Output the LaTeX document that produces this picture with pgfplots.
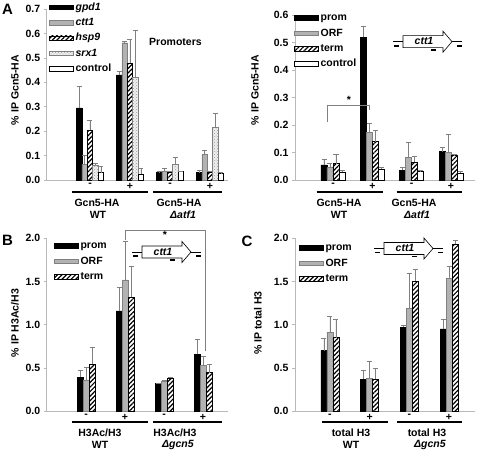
\documentclass[border=0pt]{standalone}
\usepackage{pgfplots}
\pgfplotsset{compat=1.18}
\usepackage{fontspec}
\setmainfont{Liberation Sans}
\usetikzlibrary{patterns,patterns.meta}
\definecolor{barg}{RGB}{178,178,178}
\definecolor{axg}{RGB}{185,185,185}
\newcommand{\F}{\fontsize{10.5}{12}\selectfont\bfseries}
\pgfplotsset{
  panel/.style={
    scale only axis, ybar=0pt, enlargelimits=false,
    axis lines*=left, axis line style={draw=axg, line width=0.6pt},
    major tick length=3pt, tick align=outside,
    ytick style={draw=axg, line width=0.6pt}, xtick style={draw=none},
    xtick={0,1,2,3}, xticklabels={-,+,-,+},
    ticklabel style={font=\F},
    xticklabel style={yshift=3pt},
    /pgf/number format/assume math mode=true,
    yticklabel style={/pgf/number format/.cd, fixed, fixed zerofill, precision=1},
    legend cell align=left,
    legend image code/.code={\draw[##1] (0pt,-2.25pt) rectangle (24pt,2.25pt);},
    legend style={anchor=north west, draw=none, fill=none, inner sep=0pt, row sep=2.4pt,
      column sep=1pt, font=\F, nodes={inner sep=1pt, text height=8.5pt, text depth=2.5pt}},
    error bars/y dir=plus, error bars/y explicit,
    error bars/error bar style={gray, line width=0.5pt},
    error bars/error mark options={gray, rotate=90, mark size=2.5pt, line width=0.5pt},
  },
  sblack/.style={fill=black, draw=black},
  sgray/.style={fill=barg, draw=gray},
  sstripe/.style={draw=black, line width=0.4pt, pattern={Lines[angle=45,distance=3.2pt,line width=1.2pt]}, pattern color=black},
  sdots/.style={draw=gray, preaction={fill=gray!12}, pattern=crosshatch dots, pattern color=gray!80},
  swhite/.style={fill=white, draw=black, line width=0.4pt},
}
\newcommand{\gene}[2]{%
\begin{scope}[shift={(#1pt,#2pt)}]
\draw[line width=0.7pt] (-10pt,0pt) -- (0pt,0pt);
\draw[line width=0.7pt] (49pt,0pt) -- (59pt,0pt);
\draw[line width=0.6pt, fill=white] (0pt,-6pt) -- (40pt,-6pt) -- (40pt,-10.5pt) -- (49pt,0pt) -- (40pt,10.5pt) -- (40pt,6pt) -- (0pt,6pt) -- cycle;
\node[font=\fontsize{10.5}{12}\selectfont\bfseries\itshape] at (21pt,0.5pt) {ctt1};
\draw[line width=1.8pt] (-9pt,-4pt) -- (-4pt,-4pt) (28pt,-8pt) -- (33pt,-8pt) (54pt,-4pt) -- (59pt,-4pt);
\end{scope}}
\begin{document}
\begin{tikzpicture}[font=\F]
\useasboundingbox (0pt,0pt) rectangle (480pt,459pt);
% ---------------- Panel A left
\begin{axis}[panel, at={(46.7pt,279pt)}, anchor=south west,
  width=181.3pt, height=171pt, xmin=-1.0825, xmax=3.45, ymin=0, ymax=0.7,
  ytick={0,0.1,...,0.7}, bar width=5.4pt,
  legend style={at={(axis description cs:0.0127,1.050)}}]
\addplot[sblack] coordinates {(0,0.295) +- (0,0.088) (1,0.43) +- (0,0.015) (2,0.03) +- (0,0.005) (3,0.03) +- (0,0.01)};
\addplot[sgray] coordinates {(0,0.065) +- (0,0.035) (1,0.562) +- (0,0.008) (2,0.037) +- (0,0.01) (3,0.105) +- (0,0.015)};
\addplot[sstripe] coordinates {(0,0.204) +- (0,0.04) (1,0.478) +- (0,0.1) (2,0.032) +- (0,0.004) (3,0.032) +- (0,0.003)};
\addplot[sdots] coordinates {(0,0.062) +- (0,0.005) (1,0.42) +- (0,0.195) (2,0.064) +- (0,0.03) (3,0.215) +- (0,0.057)};
\addplot[swhite] coordinates {(0,0.03) +- (0,0.027) (1,0.025) +- (0,0.025) (2,0.034) +- (0,0.001) (3,0.026) +- (0,0.005)};
\addlegendentry{\textit{gpd1}}
\addlegendentry{\textit{ctt1}}
\addlegendentry{\textit{hsp9}}
\addlegendentry{\textit{srx1}}
\addlegendentry{control}
\end{axis}
% ---------------- Panel A right
\begin{axis}[panel, at={(295pt,279pt)}, anchor=south west,
  width=180pt, height=165pt, xmin=-0.966, xmax=3.61, ymin=0, ymax=0.6,
  ytick={0,0.1,...,0.6}, bar width=6pt,
  legend style={at={(axis description cs:-0.0056,1.024)}}]
\addplot[sblack] coordinates {(0,0.055) +- (0,0.022) (1,0.52) +- (0,0.04) (2,0.035) +- (0,0.01) (3,0.103) +- (0,0.015)};
\addplot[sgray] coordinates {(0,0.045) +- (0,0.017) (1,0.173) +- (0,0.032) (2,0.083) +- (0,0.055) (3,0.1) +- (0,0.066)};
\addplot[sstripe] coordinates {(0,0.06) +- (0,0.033) (1,0.14) +- (0,0.04) (2,0.065) +- (0,0.022) (3,0.09) +- (0,0.002)};
\addplot[swhite] coordinates {(0,0.028) +- (0,0.008) (1,0.04) +- (0,0.008) (2,0.033) +- (0,0.001) (3,0.025) +- (0,0.008)};
\addlegendentry{prom}
\addlegendentry{ORF}
\addlegendentry{term}
\addlegendentry{control}
\end{axis}
% ---------------- Panel B
\begin{axis}[panel, at={(46.7pt,48pt)}, anchor=south west,
  width=181.3pt, height=172.7pt, xmin=-1.008, xmax=3.641, ymin=0, ymax=2,
  ytick={0,0.5,...,2.0}, bar width=6pt,
  legend style={at={(axis description cs:0.040,0.996)}}]
\addplot[sblack] coordinates {(0,0.39) +- (0,0.08) (1,1.16) +- (0,0.27) (2,0.32) +- (0,0.005) (3,0.656) +- (0,0.17)};
\addplot[sgray] coordinates {(0,0.36) +- (0,0.15) (1,1.52) +- (0,0.45) (2,0.345) +- (0,0.01) (3,0.53) +- (0,0.1)};
\addplot[sstripe] coordinates {(0,0.54) +- (0,0.2) (1,1.32) +- (0,0.36) (2,0.38) +- (0,0.015) (3,0.445) +- (0,0.1)};
\addlegendentry{prom}
\addlegendentry{ORF}
\addlegendentry{term}
\end{axis}
% ---------------- Panel C
\begin{axis}[panel, at={(295pt,48pt)}, anchor=south west,
  width=180pt, height=172.7pt, xmin=-0.882, xmax=3.655, ymin=0, ymax=2,
  ytick={0,0.5,...,2.0}, bar width=6pt,
  legend style={at={(axis description cs:0.022,0.984)}}]
\addplot[sblack] coordinates {(0,0.7) +- (0,0.14) (1,0.37) +- (0,0.1) (2,0.97) +- (0,0.02) (3,0.95) +- (0,0.11)};
\addplot[sgray] coordinates {(0,0.91) +- (0,0.19) (1,0.38) +- (0,0.2) (2,1.19) +- (0,0.41) (3,1.537) +- (0,0.14)};
\addplot[sstripe] coordinates {(0,0.85) +- (0,0.21) (1,0.37) +- (0,0.12) (2,1.5) +- (0,0.14) (3,1.935) +- (0,0.04)};
\addlegendentry{prom}
\addlegendentry{ORF}
\addlegendentry{term}
\end{axis}
% ---------------- annotations
\node[font=\fontsize{15}{16}\selectfont\bfseries] at (7.5pt,450pt) {A};
\node[font=\fontsize{15}{16}\selectfont\bfseries] at (7.5pt,219pt) {B};
\node[font=\fontsize{15}{16}\selectfont\bfseries] at (247pt,217.5pt) {C};
\node[rotate=90] at (15pt,369pt) {\% IP Gcn5-HA};
\node[rotate=90] at (255pt,369pt) {\% IP Gcn5-HA};
\node[rotate=90] at (15pt,136pt) {\% IP H3Ac/H3};
\node[rotate=90] at (258pt,136pt) {\% IP total H3};
\node at (175.5pt,417pt) {Promoters};
% group underlines and labels
\draw[line width=2pt] (72pt,267pt) -- (148pt,267pt) (153pt,267pt) -- (222pt,267pt);
\draw[line width=2pt] (316.7pt,267pt) -- (383.3pt,267pt) (396.7pt,267pt) -- (461.7pt,267pt);
\draw[line width=2pt] (72pt,37.3pt) -- (148pt,37.3pt) (153pt,37.3pt) -- (222pt,37.3pt);
\draw[line width=2pt] (322pt,37.3pt) -- (388pt,37.3pt) (397pt,37.3pt) -- (462pt,37.3pt);
\node at (97pt,256pt) {Gcn5-HA};
\node at (98pt,244pt) {WT};
\node at (179pt,256pt) {Gcn5-HA};
\node at (183pt,244pt) {\textit{Δatf1}};
\node at (339pt,256pt) {Gcn5-HA};
\node at (339pt,244pt) {WT};
\node at (414pt,256pt) {Gcn5-HA};
\node at (417pt,244pt) {\textit{Δatf1}};
\node at (100pt,26pt) {H3Ac/H3};
\node at (100pt,14pt) {WT};
\node at (175pt,26pt) {H3Ac/H3};
\node at (178pt,14pt) {\textit{Δgcn5}};
\node at (351pt,26pt) {total H3};
\node at (351pt,14pt) {WT};
\node at (427pt,26pt) {total H3};
\node at (430pt,14pt) {\textit{Δgcn5}};
% significance brackets
\draw[gray, line width=0.7pt] (327pt,337pt) -- (327pt,354pt) -- (369pt,354pt) -- (369pt,349pt);
\node at (349pt,359pt) {*};
\draw[gray, line width=0.7pt] (125.5pt,219pt) -- (125.5pt,228.3pt) -- (205pt,228.3pt) -- (205pt,108pt);
\node at (165pt,224pt) {*};
% gene diagrams
\gene{403}{417.3}
\gene{142}{207}
\gene{384}{210.5}
\end{tikzpicture}
\end{document}
